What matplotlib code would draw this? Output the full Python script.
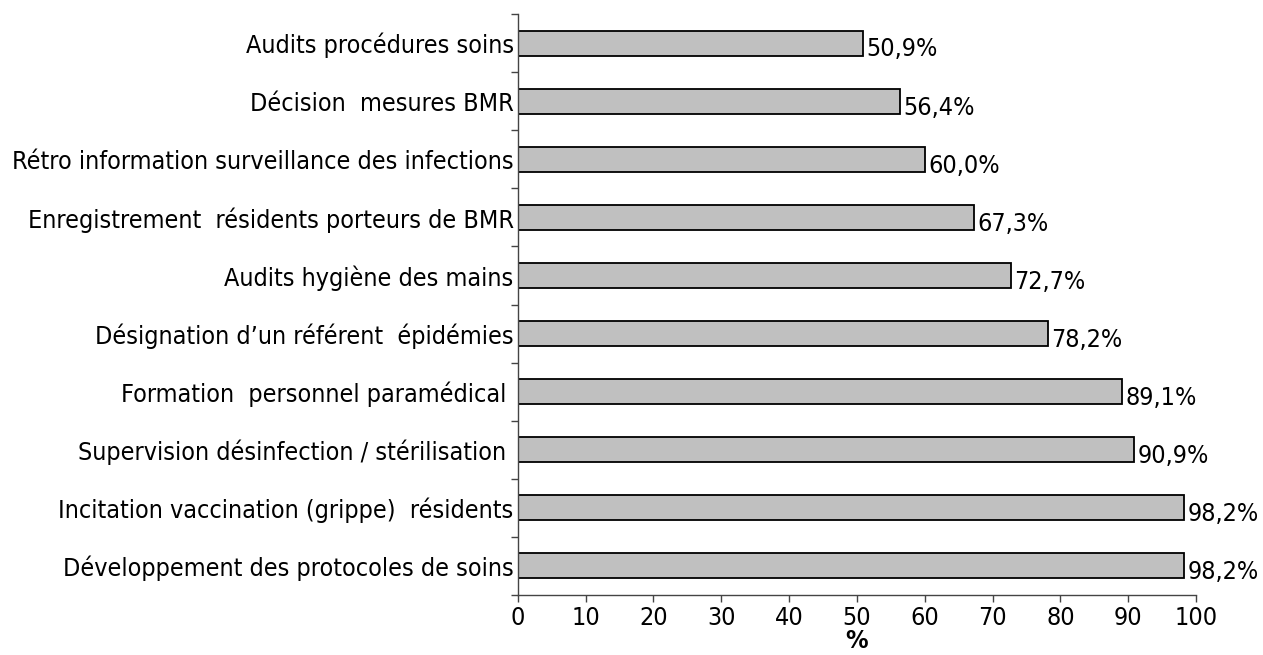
import matplotlib
matplotlib.use('Agg')
import matplotlib.pyplot as plt

plt.rcParams['font.family'] = ['DejaVu Sans']
plt.rcParams['font.stretch'] = 'condensed'

# top-to-bottom order as shown in the chart
categories = [
    "Audits procédures soins",
    "Décision  mesures BMR",
    "Rétro information surveillance des infections",
    "Enregistrement  résidents porteurs de BMR",
    "Audits hygiène des mains",
    "Désignation d\u2019un référent  épidémies",
    "Formation  personnel paramédical ",
    "Supervision désinfection / stérilisation ",
    "Incitation vaccination (grippe)  résidents",
    "Développement des protocoles de soins",
]
values = [50.9, 56.4, 60.0, 67.3, 72.7, 78.2, 89.1, 90.9, 98.2, 98.2]
x_ticks = list(range(0, 101, 10))

fig = plt.figure(figsize=(12.63, 6.55), dpi=100)
ax = fig.add_axes([0.410, 0.0916, 0.537, 0.887])

y = list(range(len(categories)))[::-1]
ax.barh(y, values, height=0.43, color='#c0c0c0', edgecolor='black', linewidth=1.3)

for yi, v in zip(y, values):
    ax.text(v + 0.5, yi - 0.11, f"{v:.1f}%".replace('.', ','), va='center', ha='left', fontsize=18)

ax.set_ylim(-0.5, len(categories) - 0.5)
ax.set_xlim(0, 100)
ax.set_yticks(y)
ax.set_yticklabels(categories, fontsize=18)
ax.tick_params(axis='y', length=0, pad=3)
# boundary tick marks on y axis
ax.set_yticks([i - 0.5 for i in range(len(categories) + 1)], minor=True)
ax.tick_params(axis='y', which='minor', length=5, width=1, color='#444444')
ax.set_xticks(x_ticks)
ax.set_xticklabels([str(t) for t in x_ticks], fontsize=18)
ax.tick_params(axis='x', length=5, width=1, color='#444444', pad=3)
ax.set_xlabel('%', fontsize=18, fontweight='bold')
ax.xaxis.set_label_coords(0.5, -0.058)

for s in ['top', 'right']:
    ax.spines[s].set_visible(False)
for s in ['left', 'bottom']:
    ax.spines[s].set_color('#444444')
    ax.spines[s].set_linewidth(1)

fig.savefig('out.png', dpi=100)
